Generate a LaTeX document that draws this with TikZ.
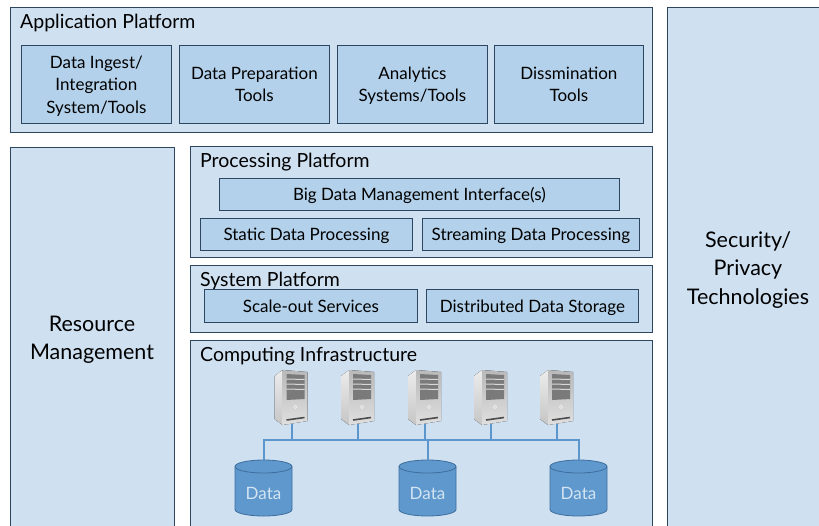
\documentclass[tikz,border=0pt]{standalone}
\usepackage{fontspec}
\setmainfont{Lato}
\definecolor{paneblue}{HTML}{CFE0F1}
\definecolor{cellblue}{HTML}{B3D1EA}
\definecolor{edgenavy}{HTML}{2E4660}
\definecolor{netblue}{HTML}{5B96CD}
\definecolor{drumblue}{HTML}{5F98CC}
\definecolor{drumedge}{HTML}{3D6E9E}
\definecolor{drumtext}{HTML}{D3E4F3}
\tikzset{
  pane/.style={draw=edgenavy, fill=paneblue, line width=0.8pt, anchor=north west, inner sep=0pt},
  cell/.style={draw=edgenavy, fill=cellblue, line width=0.8pt, anchor=north west, inner sep=0pt,
    align=center, text depth=0pt, font=\fontsize{17}{22.5}\selectfont},
  heading/.style={anchor=west, inner sep=0pt, text depth=0pt, font=\fontsize{19.5}{22}\selectfont},
  sidetext/.style={align=center, inner sep=0pt, font=\fontsize{21.5}{28.5}\selectfont},
  bus/.style={draw=netblue, line width=2pt},
  drum/.style={minimum width=57pt, minimum height=56pt, inner sep=0pt},
  drumlabel/.style={inner sep=0pt, text=drumtext, yshift=-5pt, font=\fontsize{17}{20}\selectfont},
  tower/.pic={
    \fill[top color=gray!15, bottom color=gray!45] (-17,-21) -- (-9,-27) -- (-9,28) -- (-17,22) -- cycle;
    \fill[top color=gray!55, bottom color=gray!25] (-9,-27) -- (16,-25) -- (16,24) -- (-9,28) -- cycle;
    \fill[gray!70!black!80] (-5,-23) -- (13,-22) -- (13,2) -- (-5,3) -- cycle;
    \draw[gray!30, line width=1pt] (-5,-18) -- (13,-17.5) (-5,-13) -- (13,-12.5) (-5,-8) -- (13,-7.5);
    \draw[gray!15, line width=0.6pt] (4,10) circle[radius=1.6pt];
    \draw[gray!60!black, line width=1.6pt] (-5,23) -- (13,20.5);
  }
}

\begin{document}
\begin{tikzpicture}[x=1pt, y=-1pt]
    \useasboundingbox (0,0) rectangle (819,525);
    \clip (0,0) rectangle (819,525);
    \node[pane, minimum width=642pt, minimum height=125pt] (app) at (10,7) {};
    \node[pane, minimum width=164pt, minimum height=390pt] (res) at (10,147) {};
    \node[pane, minimum width=170pt, minimum height=530pt] (sec) at (667,7) {};
    \node[pane, minimum width=462pt, minimum height=111pt] (proc) at (189.5,146) {};
    \node[pane, minimum width=462pt, minimum height=67pt] (sys) at (189.5,265) {};
    \node[pane, minimum width=462pt, minimum height=200pt] (comp) at (189.5,340) {};

    \node[heading] (appT) at (20,21) {Application Platform};
    \node[heading] (procT) at (200,160) {Processing Platform};
    \node[heading] (sysT) at (200,279) {System Platform};
    \node[heading] (compT) at (200,354) {Computing Infrastructure};
    \node[sidetext] (resT) at (92,340) {Resource\\Management};
    \node[sidetext] (secT) at (748,270) {Security/\\Privacy\\Technologies};

    \node[cell, minimum width=150pt, minimum height=78pt] (ingest) at (21,45) {Data Ingest/\\Integration\\System/Tools};
    \node[cell, minimum width=150pt, minimum height=78pt] (prep) at (179,45) {Data Preparation\\Tools};
    \node[cell, minimum width=150pt, minimum height=78pt] (analytics) at (337,45) {Analytics\\Systems/Tools};
    \node[cell, minimum width=149pt, minimum height=78pt] (dissem) at (494,45) {Dissmination\\Tools};
    \node[cell, minimum width=400pt, minimum height=32pt] (bdmi) at (219,178) {Big Data Management Interface(s)};
    \node[cell, minimum width=212pt, minimum height=32pt] (static) at (200,218) {Static Data Processing};
    \node[cell, minimum width=217pt, minimum height=32pt] (stream) at (422,218) {Streaming Data Processing};
    \node[cell, minimum width=213pt, minimum height=33pt] (scale) at (204,289) {Scale-out Services};
    \node[cell, minimum width=212pt, minimum height=33pt] (dist) at (426,289) {Distributed Data Storage};

    \coordinate (busY) at (0,440);
    \foreach \i/\x in {1/291.5,2/358,3/425,4/491,5/557}{
        \node[minimum width=33pt, minimum height=54pt, inner sep=0pt] (s\i) at (\x,397) {};
        \draw[bus] (s\i.south) -- (s\i.south |- busY);
        \pic at (s\i) {tower};
    }
    \foreach \n/\x in {1/263.5,2/427.5,3/578.5}{
        \filldraw[fill=drumblue, draw=drumedge, line width=0.8pt] (\x-28.5,466.5) -- (\x-28.5,509.5)
            arc[start angle=180, end angle=360, x radius=28.5pt, y radius=6.5pt] -- (\x+28.5,466.5)
            arc[start angle=0, end angle=180, x radius=28.5pt, y radius=6.5pt] -- cycle;
        \draw[drumedge, line width=0.8pt] (\x+28.5,466.5)
            arc[start angle=0, end angle=-180, x radius=28.5pt, y radius=6.5pt];
        \node[drum, label={[drumlabel]center:Data}] (d\n) at (\x,488) {};
    }
    \draw[bus] (d1.north) -- (d1.north |- busY) -- (d3.north |- busY) -- (d3.north);
    \draw[bus] (d2.north |- busY) -- (d2.north);
\end{tikzpicture}
\end{document}
